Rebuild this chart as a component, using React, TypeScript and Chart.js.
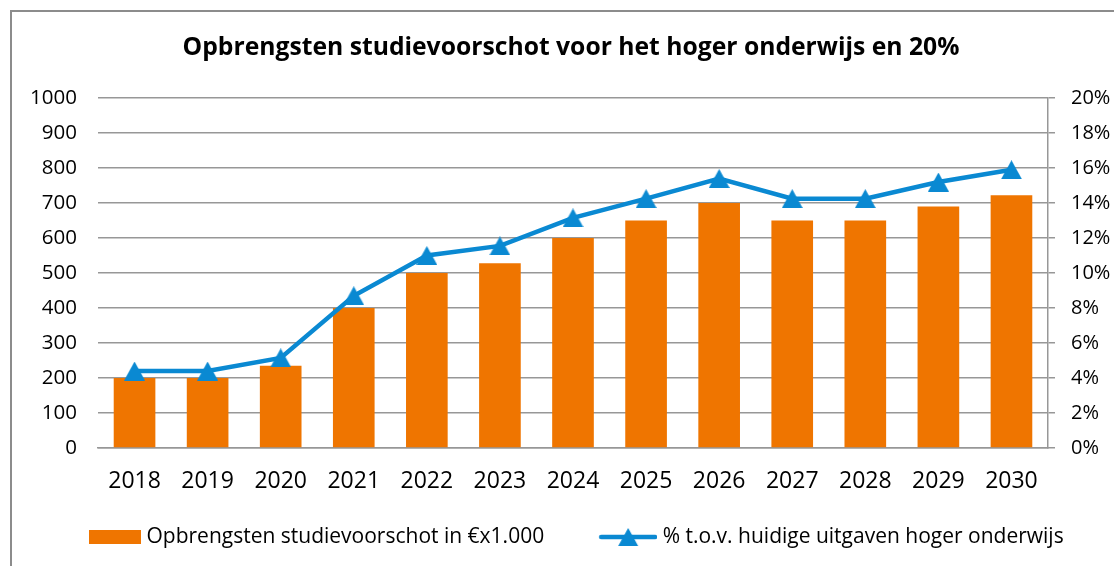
import React, { useEffect, useRef } from 'react';
import { Chart, registerables } from 'chart.js';

Chart.register(...registerables);

const titleText = 'Opbrengsten studievoorschot voor het hoger onderwijs en 20%';
const years = ['2018', '2019', '2020', '2021', '2022', '2023', '2024', '2025', '2026', '2027', '2028', '2029', '2030'];
const revenue = [200, 200, 235, 400, 500, 528, 600, 650, 700, 650, 650, 690, 722];
const pctOfSpending = [4.4, 4.4, 5.15, 8.7, 11.0, 11.55, 13.15, 14.25, 15.4, 14.25, 14.25, 15.2, 15.9];
const revenueLabel = 'Opbrengsten studievoorschot in €x1.000';
const pctLabel = '% t.o.v. huidige uitgaven hoger onderwijs';
const leftAxisRange = [0, 1000, 100];
const rightAxisRange = [0, 20, 2];

const ORANGE = '#EF7500';
const BLUE = '#0A89D2';
const GRID = '#979797';
const FONT = '"Open Sans"';

const LEGEND_BOX = 74; // legend pointStyleWidth
const SWATCH_W = 84; // swatch image width (centered on the box)

function makeTriangle(w: number, h: number): HTMLCanvasElement {
  const c = document.createElement('canvas');
  c.width = w;
  c.height = h;
  const ctx = c.getContext('2d')!;
  ctx.fillStyle = BLUE;
  ctx.beginPath();
  ctx.moveTo(w / 2, 0);
  ctx.lineTo(w, h);
  ctx.lineTo(0, h);
  ctx.closePath();
  ctx.fill();
  return c;
}

function makeBarSwatch(): HTMLCanvasElement {
  const c = document.createElement('canvas');
  c.width = SWATCH_W;
  c.height = 20;
  const ctx = c.getContext('2d')!;
  ctx.fillStyle = ORANGE;
  ctx.fillRect(SWATCH_W - 52, 3, 52, 14);
  return c;
}

function makeLineSwatch(): HTMLCanvasElement {
  const c = document.createElement('canvas');
  c.width = SWATCH_W;
  c.height = 20;
  const ctx = c.getContext('2d')!;
  const x0 = SWATCH_W - 58;
  ctx.strokeStyle = BLUE;
  ctx.lineWidth = 4.5;
  ctx.lineCap = 'round';
  ctx.beginPath();
  ctx.moveTo(x0 + 2, 10);
  ctx.lineTo(SWATCH_W - 2, 10);
  ctx.stroke();
  ctx.drawImage(makeTriangle(20, 18), x0 + 19, 1);
  return c;
}

export default function App() {
  const ref = useRef<HTMLCanvasElement | null>(null);

  useEffect(() => {
    if (!ref.current) return;
    const tri = makeTriangle(21, 19);
    const barSwatch = makeBarSwatch();
    const lineSwatch = makeLineSwatch();

    const chart = new Chart(ref.current, {
      type: 'bar',
      data: {
        labels: years,
        datasets: [
          {
            type: 'bar',
            label: revenueLabel,
            data: revenue,
            backgroundColor: ORANGE,
            borderWidth: 0,
            barPercentage: 0.57,
            categoryPercentage: 1,
            yAxisID: 'y',
            order: 1,
          },
          {
            type: 'line',
            label: pctLabel,
            data: pctOfSpending,
            borderColor: BLUE,
            backgroundColor: BLUE,
            borderWidth: 4.5,
            pointStyle: tri as any,
            pointRadius: 10,
            tension: 0,
            yAxisID: 'y1',
            order: 0,
          } as any,
        ],
      },
      options: {
        responsive: false,
        animation: false,
        layout: { padding: { left: 28, right: 0, top: 0, bottom: 8.5 } },
        plugins: {
          title: {
            display: true,
            text: titleText,
            color: '#000',
            font: { family: FONT, size: 24.7, weight: 'bold' },
            padding: { top: 33, bottom: 35.4 },
          },
          tooltip: { enabled: false },
          legend: {
            position: 'bottom',
            align: 'start',
            labels: {
              usePointStyle: true,
              pointStyleWidth: LEGEND_BOX,
              color: '#000',
              font: { family: FONT, size: 21 },
              padding: 34,
              generateLabels: () => [
                {
                  text: revenueLabel,
                  pointStyle: barSwatch as any,
                  fillStyle: ORANGE,
                  strokeStyle: ORANGE,
                  lineWidth: 0,
                  hidden: false,
                  datasetIndex: 0,
                  fontColor: '#000',
                },
                {
                  text: pctLabel,
                  pointStyle: lineSwatch as any,
                  fillStyle: BLUE,
                  strokeStyle: BLUE,
                  lineWidth: 0,
                  hidden: false,
                  datasetIndex: 1,
                  fontColor: '#000',
                },
              ],
            },
          },
        },
        scales: {
          x: {
            grid: { display: false, drawTicks: false },
            border: { display: true, color: GRID, width: 1.5 },
            ticks: {
              color: '#000',
              font: { family: FONT, size: 23, lineHeight: 0.9 },
              padding: 23.6,
              maxRotation: 0,
            },
            afterFit: (s: any) => { s.height = 44.5; },
          },
          y: {
            position: 'left',
            min: leftAxisRange[0],
            max: leftAxisRange[1],
            ticks: {
              stepSize: leftAxisRange[2],
              color: '#000',
              font: { family: FONT, size: 20.5 },
              padding: 21,
              callback: (v: any) => String(v),
            },
            grid: { color: GRID, lineWidth: 1.5, drawTicks: false },
            border: { display: false },
            afterFit: (s: any) => { s.width = 70; },
          },
          y1: {
            position: 'right',
            min: rightAxisRange[0],
            max: rightAxisRange[1],
            ticks: {
              stepSize: rightAxisRange[2],
              color: '#000',
              font: { family: FONT, size: 20 },
              padding: 16,
              callback: (v: any) => `${v}%`,
            },
            grid: { drawOnChartArea: false, drawTicks: true, tickLength: 7, color: GRID, lineWidth: 1.5 },
            border: { display: true, color: GRID, width: 1.5 },
            afterFit: (s: any) => { s.width = 66; },
          },
        },
      },
    });
    return () => chart.destroy();
  }, []);

  return (
    <div style={{ position: 'fixed', left: 0, top: 0, width: 1114, height: 566, overflow: 'hidden', background: '#fff' }}>
      <div
        style={{
          position: 'absolute',
          left: 10,
          top: 10,
          width: 1200,
          height: 700,
          border: '2px solid #8c8c8c',
          boxSizing: 'border-box',
        }}
      />
      <canvas ref={ref} width={1114} height={566} style={{ position: 'absolute', left: 0, top: 0 }} />
    </div>
  );
}
